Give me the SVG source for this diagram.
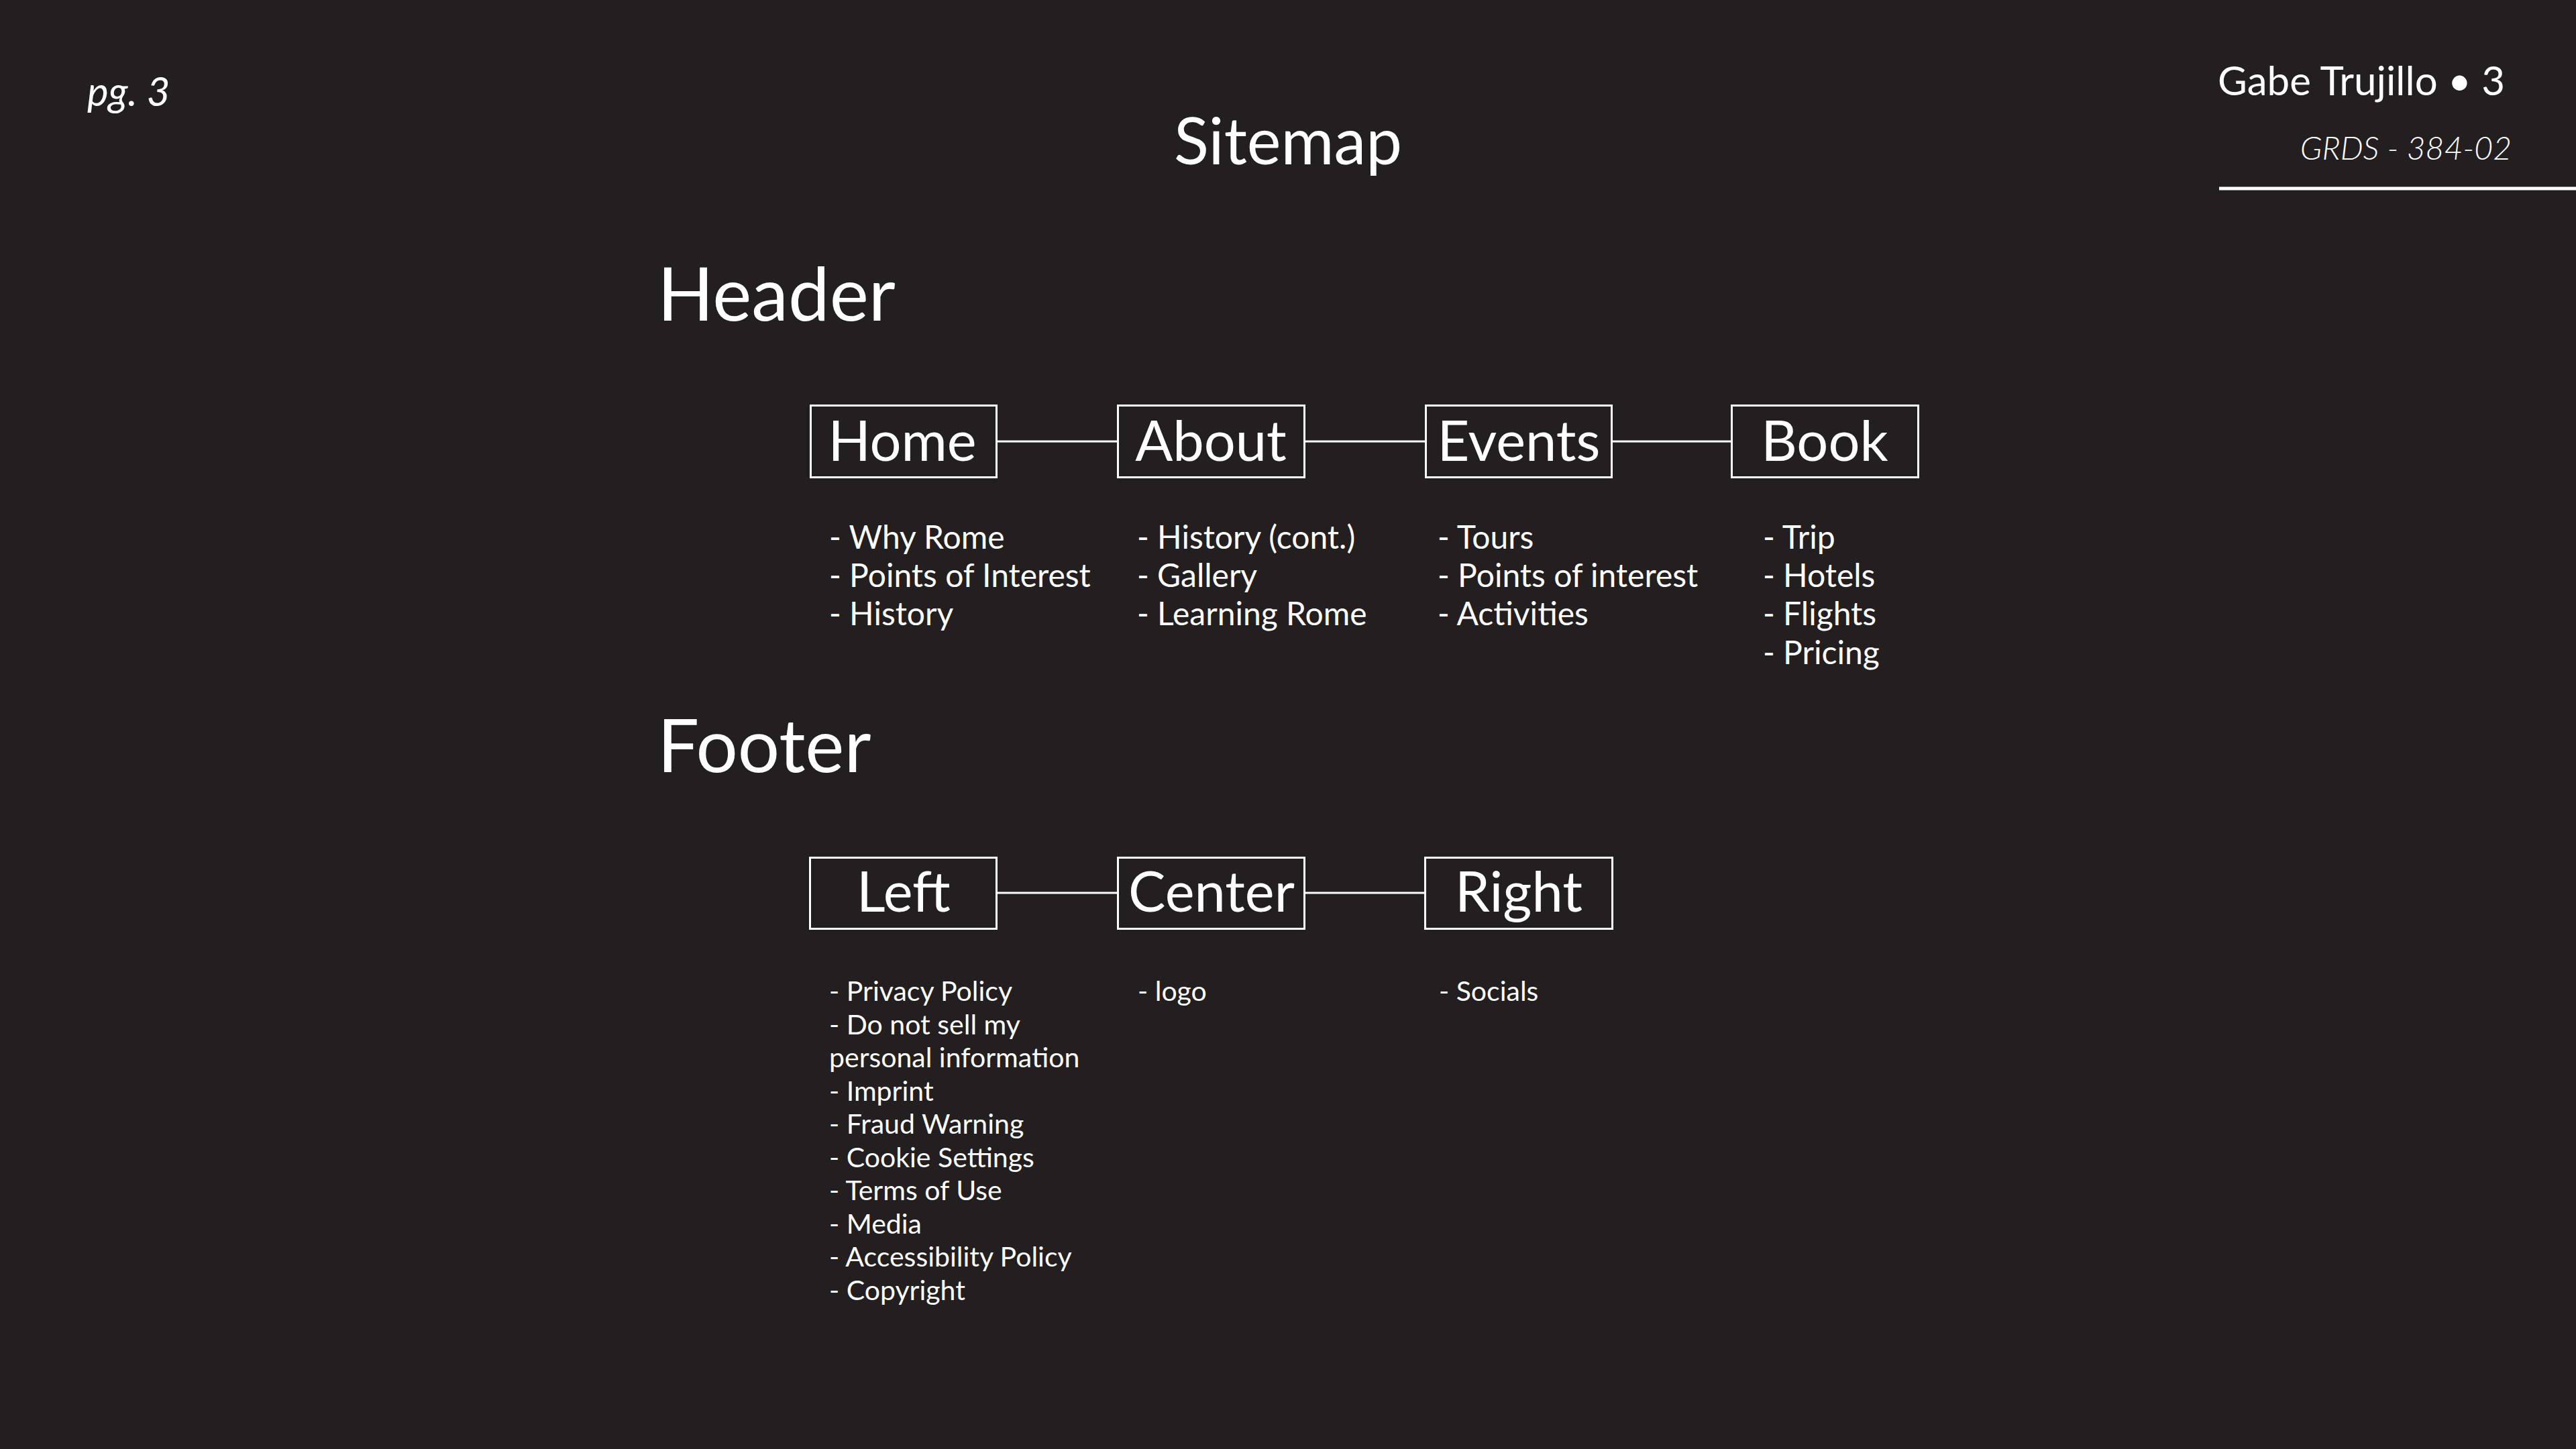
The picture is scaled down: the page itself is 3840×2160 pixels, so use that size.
<svg xmlns="http://www.w3.org/2000/svg" width="3840" height="2160" viewBox="0 0 3840 2160">
<style>
text{font-family:Lato,"Liberation Sans",sans-serif;fill:#ffffff}
.box{fill:none;stroke:#ffffff;stroke-width:3}
.conn{stroke:#ffffff;stroke-width:3;fill:none}
.lbl{font-size:83px;text-anchor:middle}
.li{font-size:48px}
.lf{font-size:41px}
.h{font-size:110px}
</style>
<rect width="3840" height="2160" fill="#231f20"/>
<text x="130" y="158" font-size="60" font-style="italic">pg. 3</text>
<text x="1920" y="245" font-size="96" text-anchor="middle">Sitemap</text>
<text x="3734" y="142" font-size="60" text-anchor="end">Gabe Trujillo • 3</text>
<text x="3744" y="238" font-size="48" font-style="italic" font-weight="300" text-anchor="end">GRDS - 384-02</text>
<line x1="3308" y1="281" x2="3840" y2="281" stroke="#ffffff" stroke-width="5"/>
<text class="h" x="980" y="478">Header</text>
<text class="h" x="980" y="1151">Footer</text>
<g id="connectors">
<line class="conn" x1="1487" y1="658" x2="1665" y2="658"/>
<line class="conn" x1="1946" y1="658" x2="2124" y2="658"/>
<line class="conn" x1="2404" y1="658" x2="2580" y2="658"/>
<line class="conn" x1="1487" y1="1331" x2="1665" y2="1331"/>
<line class="conn" x1="1946" y1="1331" x2="2123" y2="1331"/>
</g>
<g id="home">
<rect class="box" x="1208.5" y="604.5" width="277" height="107"/>
<text class="lbl" x="1345" y="687">Home</text>
<text class="li"><tspan x="1236" y="818">- Why Rome</tspan><tspan x="1236" y="875">- Points of Interest</tspan><tspan x="1236" y="932">- History</tspan></text>
</g>
<g id="about">
<rect class="box" x="1666.5" y="604.5" width="278" height="107"/>
<text class="lbl" x="1805" y="687">About</text>
<text class="li"><tspan x="1695" y="818">- History (cont.)</tspan><tspan x="1695" y="875">- Gallery</tspan><tspan x="1695" y="932">- Learning Rome</tspan></text>
</g>
<g id="events">
<rect class="box" x="2125.5" y="604.5" width="277" height="107"/>
<text class="lbl" x="2264" y="687">Events</text>
<text class="li"><tspan x="2143" y="818">- Tours</tspan><tspan x="2143" y="875">- Points of interest</tspan><tspan x="2143" y="932">- Activities</tspan></text>
</g>
<g id="book">
<rect class="box" x="2581.5" y="604.5" width="278" height="107"/>
<text class="lbl" x="2720" y="687">Book</text>
<text class="li"><tspan x="2628" y="818">- Trip</tspan><tspan x="2628" y="875">- Hotels</tspan><tspan x="2628" y="932">- Flights</tspan><tspan x="2628" y="990">- Pricing</tspan></text>
</g>
<g id="left">
<rect class="box" x="1207.5" y="1278.5" width="278" height="106"/>
<text class="lbl" x="1347" y="1359">Left</text>
<text class="lf"><tspan x="1236" y="1492">- Privacy Policy</tspan><tspan x="1236" y="1541.5">- Do not sell my</tspan><tspan x="1236" y="1591">personal information</tspan><tspan x="1236" y="1640.5">- Imprint</tspan><tspan x="1236" y="1690">- Fraud Warning</tspan><tspan x="1236" y="1739.5">- Cookie Settings</tspan><tspan x="1236" y="1789">- Terms of Use</tspan><tspan x="1236" y="1838.5">- Media</tspan><tspan x="1236" y="1888">- Accessibility Policy</tspan><tspan x="1236" y="1937.5">- Copyright</tspan></text>
</g>
<g id="center">
<rect class="box" x="1666.5" y="1278.5" width="278" height="106"/>
<text class="lbl" x="1806" y="1359">Center</text>
<text class="lf" x="1696" y="1492">- logo</text>
</g>
<g id="right">
<rect class="box" x="2124.5" y="1278.5" width="279" height="106"/>
<text class="lbl" x="2264" y="1359">Right</text>
<text class="lf" x="2145" y="1492">- Socials</text>
</g>
</svg>
